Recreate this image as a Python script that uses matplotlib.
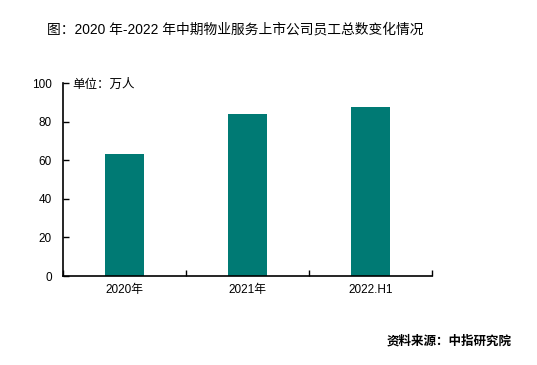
import matplotlib
matplotlib.use('Agg')
import matplotlib.pyplot as plt

plt.rcParams['font.family'] = ['Liberation Sans', 'Noto Sans CJK SC', 'DejaVu Sans']

# data
categories = ['2020年', '2021年', '2022.H1']
staff = [63.2, 84.0, 87.6]
yticks = [0, 20, 40, 60, 80, 100]

fig = plt.figure(figsize=(5.37, 3.65), dpi=100)
ax = fig.add_axes([0.1173, 0.2438, 0.6872, 0.5288])

x = range(len(categories))
ax.bar(x, staff, width=0.32, color='#007A74')

ax.set_xlim(-0.5, len(categories) - 0.5)
ax.set_ylim(0, 100)
ax.set_yticks(yticks)
ax.set_xticks([i + 0.5 for i in range(-1, len(categories))], minor=False)
ax.set_xticklabels([])
ax.set_xticks(list(x), minor=True)
ax.set_xticklabels(categories, minor=True, fontsize=8.5)
ax.tick_params(axis='x', which='minor', length=0, pad=6)
ax.tick_params(axis='x', which='major', direction='in', length=4, width=1)
ax.tick_params(axis='y', direction='in', length=4, width=1, labelsize=8.5, pad=8)

for s in ['top', 'right']:
    ax.spines[s].set_visible(False)
for s in ['left', 'bottom']:
    ax.spines[s].set_linewidth(1.2)

fig.text(47 / 537, 1 - 30 / 365, '图：2020 年-2022 年中期物业服务上市公司员工总数变化情况',
         fontsize=9.9, va='center', ha='left')
fig.text(72 / 537, 1 - 85 / 365, '单位：万人', fontsize=9, va='center', ha='left')
fig.text(512 / 537, 1 - 341 / 365, '资料来源：中指研究院', fontsize=9, fontweight='bold',
         va='center', ha='right')

fig.savefig('out.png', dpi=100)
